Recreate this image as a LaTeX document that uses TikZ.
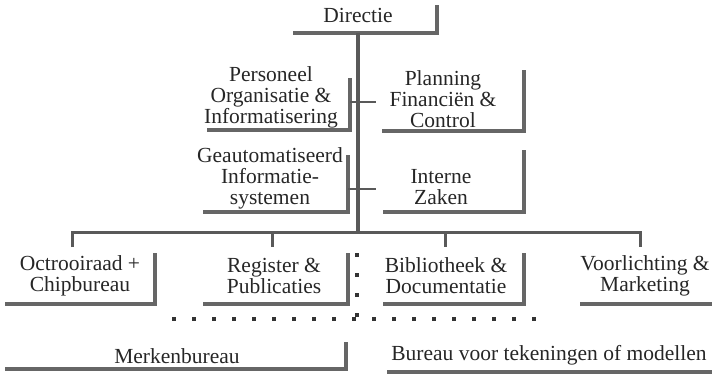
\documentclass[tikz,border=0pt]{standalone}
\usepackage{fontspec}
\setmainfont{Liberation Serif}
\usepackage{tikz}

\begin{document}
\begin{tikzpicture}[x=1pt, y=-1pt,
  every node/.style={font=\fontsize{21.5}{21}\selectfont, align=center, inner sep=0pt, text=black!85},
  shadow/.style={line width=3.6pt, draw=black!60},
  link/.style={line width=3pt, draw=black!65},
  dotline/.style={line width=4pt, draw=black!80, dash pattern=on 4pt off 16pt}]
\useasboundingbox (0,0) rectangle (712,377);

% units
\node (dir) at (358,15) {Directie};
\node (pio) at (271,97) {Personeel\\Organisatie \&\\Informatisering};
\node (pfc) at (443,99) {Planning\\Financiën \&\\Control};
\node (gis) at (270,178) {Geautomatiseerd\\Informatie-\\systemen};
\node (iz)  at (441,187) {Interne\\Zaken};
\node (ocb) at (80,276) {Octrooiraad +\\Chipbureau};
\node (rp)  at (274,276) {Register \&\\Publicaties};
\node (bd)  at (446,276) {Bibliotheek \&\\Documentatie};
\node (vm)  at (645,276) {Voorlichting \&\\Marketing};
\node (mb)  at (177,356) {Merkenbureau};
\node (bt)  at (549,355) {Bureau voor tekeningen of modellen};

% shadows
\draw[shadow] (293,33) -- (437,33) -- (437,5);
\draw[shadow] (207,130) -- (350,130) -- (350,78);
\draw[shadow] (382,131) -- (524,131) -- (524,70);
\draw[shadow] (203,212) -- (348,212) -- (348,155);
\draw[shadow] (383,212) -- (524,212) -- (524,150);
\draw[shadow] (5,304) -- (155,304) -- (155,253);
\draw[shadow] (203,304) -- (348,304) -- (348,253);
\draw[shadow] (383,304) -- (524,304) -- (524,253);
\draw[shadow] (580,304) -- (712,304);
\draw[shadow] (5,369) -- (346,369) -- (346,342);
\draw[shadow] (387,372) -- (712,372);

% junctions
\coordinate (top) at (358,33);
\coordinate (bus) at (358,232);
\coordinate (pio-r) at (350,102);
\coordinate (pfc-l) at (376,102);
\coordinate (gis-r) at (348,189);
\coordinate (iz-l) at (376,189);
\coordinate (ocb-t) at (72,247);
\coordinate (rp-t) at (272,247);
\coordinate (bd-t) at (445,247);
\coordinate (vm-t) at (640,247);

\draw[link, line width=3.6pt] (top) -- (bus);
\draw[link, line width=2.5pt] (pio-r) -- (pfc-l);
\draw[link, line width=2.5pt] (gis-r) -- (iz-l);
\draw[link] (ocb-t) -- (ocb-t |- bus) -- (vm-t |- bus) -- (vm-t);
\draw[link] (rp-t |- bus) -- (rp-t);
\draw[link] (bd-t |- bus) -- (bd-t);

% dotted grouping
\draw[dotline] (357,253) -- (357,321);
\draw[dotline] (172,319) -- (540,319);
\end{tikzpicture}
\end{document}
